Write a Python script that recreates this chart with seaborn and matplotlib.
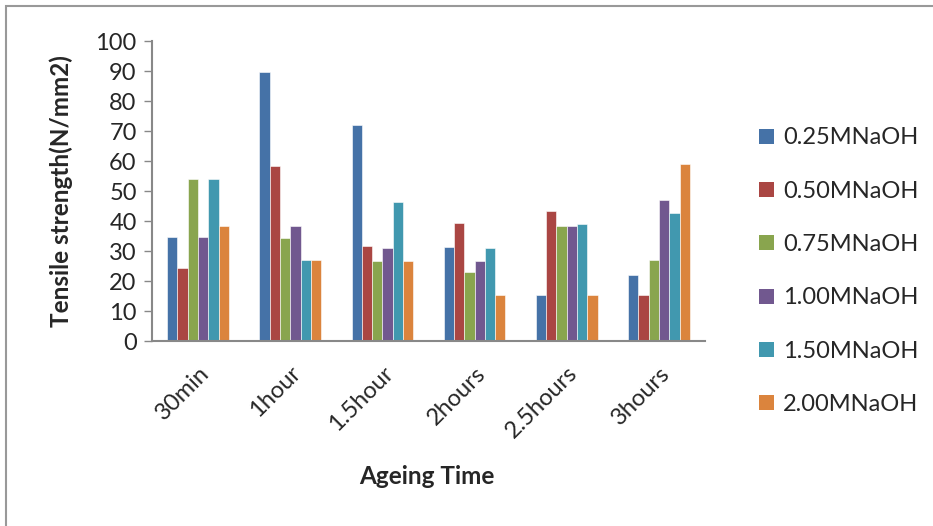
import numpy as np
import pandas as pd
import matplotlib
matplotlib.use('Agg')
import matplotlib.pyplot as plt
import matplotlib.patches as mpatches
import seaborn as sns

# Data
times = ['30min', '1hour', '1.5hour', '2hours', '2.5hours', '3hours']
conc = ['0.25MNaOH', '0.50MNaOH', '0.75MNaOH', '1.00MNaOH', '1.50MNaOH', '2.00MNaOH']
s025 = [34.6, 89.7, 72.0, 31.4, 15.4, 22.0]
s050 = [24.5, 58.4, 31.8, 39.4, 43.4, 15.4]
s075 = [54.1, 34.2, 26.8, 23.1, 38.5, 27.1]
s100 = [34.8, 38.5, 31.0, 26.8, 38.5, 47.0]
s150 = [54.1, 27.1, 46.2, 31.0, 39.0, 42.7]
s200 = [38.5, 27.1, 26.8, 15.4, 15.4, 58.9]

colors = ['#4572A7', '#AA4643', '#89A54E', '#71588F', '#4198AF', '#DB843D']

rows = []
for name, vals in zip(conc, [s025, s050, s075, s100, s150, s200]):
    for t, v in zip(times, vals):
        rows.append({'time': t, 'conc': name, 'value': v})
df = pd.DataFrame(rows)

sns.set_style('white')
plt.rcParams['font.family'] = ['Lato', 'DejaVu Sans']

W, H = 933, 526
fig = plt.figure(figsize=(W / 100, H / 100), dpi=100)
ax = fig.add_axes([152 / W, 1 - 341 / H, (705 - 152) / W, 300 / H])

sns.barplot(data=df, x='time', y='value', hue='conc', order=times, hue_order=conc,
            palette=colors, width=0.67, saturation=1, edgecolor='white', linewidth=0.4,
            ax=ax, legend=False)

ax.set_ylim(0, 100)
ax.set_xlim(-0.5, len(times) - 0.5)
ax.set_yticks(np.arange(0, 101, 10))
ax.tick_params(axis='y', left=True, length=6, width=1, color='#888888', labelsize=17, pad=5)
ax.tick_params(axis='x', bottom=False, labelsize=17, pad=12)
plt.setp(ax.get_xticklabels(), rotation=45, ha='right', rotation_mode='anchor')
for side in ['top', 'right']:
    ax.spines[side].set_visible(False)
for side in ['left', 'bottom']:
    ax.spines[side].set_color('#888888')
    ax.spines[side].set_linewidth(1.5)

ax.set_ylabel('Tensile strength(N/mm2)', fontsize=17.5, fontweight='bold')
ax.yaxis.set_label_coords(-0.143, 0.5)
ax.set_xlabel('')
fig.text(427 / W, 1 - 477 / H, 'Ageing Time', fontsize=17.5, fontweight='bold',
         ha='center', va='center')

handles = [mpatches.Patch(facecolor=c, edgecolor='none') for c in colors]
fig.legend(handles, conc, loc='upper left', bbox_to_anchor=(750 / W, 1 - 118 / H),
           frameon=False, fontsize=17, handlelength=0.6, handleheight=0.6,
           handletextpad=0.4, labelspacing=1.37, borderaxespad=0)

fig.patches.append(mpatches.Rectangle((6 / W, -0.05), 1.1, 1 - 6 / H + 0.05,
                                      transform=fig.transFigure, fill=False,
                                      edgecolor='#999999', linewidth=1.5))

fig.savefig('out.png', dpi=100)
